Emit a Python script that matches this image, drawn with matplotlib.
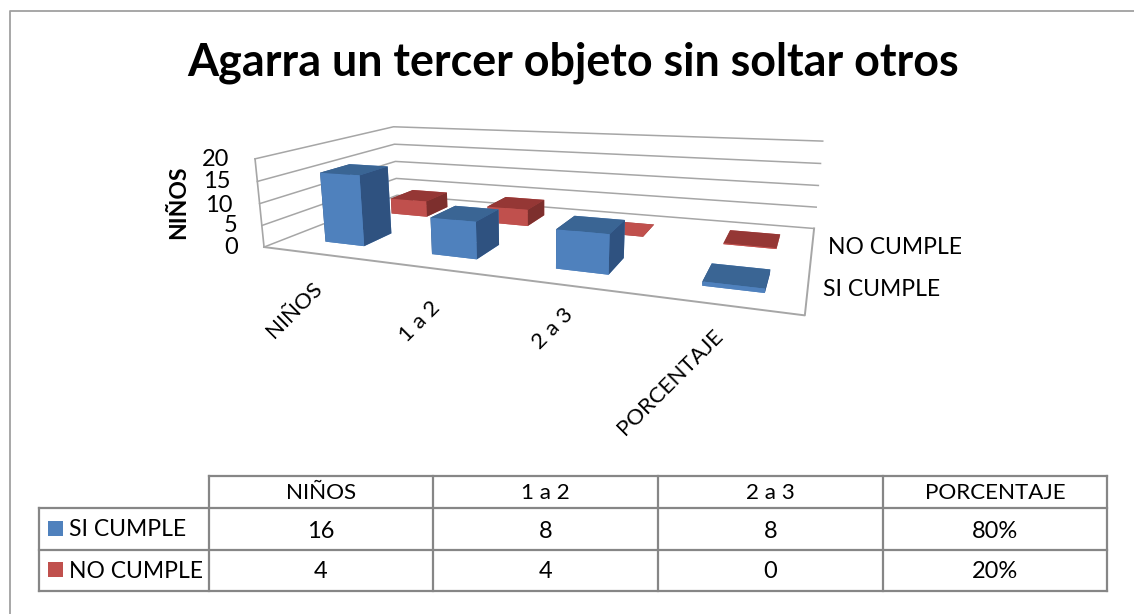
import matplotlib
matplotlib.use('Agg')
import matplotlib.pyplot as plt
from matplotlib.patches import Rectangle

plt.rcParams['font.family'] = ['Lato', 'DejaVu Sans']

categories = ['NIÑOS', '1 a 2', '2 a 3', 'PORCENTAJE']
series_names = ['SI CUMPLE', 'NO CUMPLE']
si_cumple = [16, 8, 8, 0.8]
no_cumple = [4, 4, 0, 0.2]
si_labels = ['16', '8', '8', '80%']
no_labels = ['4', '4', '0', '20%']
z_ticks = [0, 5, 10, 15, 20]
title = 'Agarra un tercer objeto sin soltar otros'

W, H = 1134, 614
fig = plt.figure(figsize=(W / 100, H / 100), dpi=100)
fig.patch.set_facecolor('white')

# camera worked out from the vanishing points of the chart floor
ax = fig.add_subplot(projection='3d', computed_zorder=False)
ax.set_axis_off()
ax.patch.set_alpha(0)
ax.set_box_aspect((1, 1, 1))
ax.view_init(elev=14.97, azim=-63.7, roll=1.6)
ax.set_proj_type('persp', focal_length=0.11)
px_x, px_y, px_z = 123.25, 128.5, 4.45   # world units per data unit
ax.set_xlim((237.6 - 300) / px_x, (237.6 + 300) / px_x)
ax.set_ylim((-24.1 - 300) / px_y, (-24.1 + 300) / px_y)
ax.set_zlim((44.7 - 300) / px_z, (44.7 + 300) / px_z)

x0, x1 = ax.viewLim.intervalx
y0, y1 = ax.viewLim.intervaly
size = 734 / 0.11 * (x1 - x0)
left = 466 + x0 / (x1 - x0) * size
bottom = (H - 231) + y0 / (y1 - y0) * size
ax.set_position([left / W, bottom / H, size / W, size / H])

# frame
grid_c = '#a6a6a6'
nx, ny = len(categories), len(series_names)
for z in z_ticks:
    ax.plot([0, 0, nx], [0, ny, ny], [z, z, z], color=grid_c, lw=1.1, zorder=1)
ax.plot([0, 0], [0, 0], [0, 20], color=grid_c, lw=1.2, zorder=1)
ax.plot([0, nx, nx], [0, 0, ny], [0, 0, 0], color=grid_c, lw=1.4, zorder=1)

# faces: bottom, top, front, back, left, right
blue = ['#4f81bd', '#3a6594', '#4f81bd', '#4f81bd', '#2f5280', '#2f5280']
red = ['#c0504d', '#953735', '#c0504d', '#c0504d', '#7d2f2d', '#7d2f2d']
bar_x = [k + 0.38 for k in range(nx)]
ax.bar3d(bar_x, [1.3] * nx, [0] * nx, 0.38, 0.4, no_cumple, color=red * nx, shade=False, zorder=2)
ax.bar3d(bar_x, [0.3] * nx, [0] * nx, 0.38, 0.4, si_cumple, color=blue * nx, shade=False, zorder=3)

# everything flat goes on an overlay in image pixels
ov = fig.add_axes([0, 0, 1, 1])
ov.set_xlim(0, W)
ov.set_ylim(H, 0)
ov.axis('off')
ov.patch.set_alpha(0)

# chart border, only top and left are inside the crop
ov.plot([10, 10, W], [H, 11, 11], color='#a0a0a0', lw=1.3)
ov.text(573, 63, title, fontsize=32.3, fontweight='bold', ha='center', va='center', color='black')
ov.text(179, 202, 'NIÑOS', fontsize=16.5, fontweight='bold', rotation=90, ha='center', va='center')

fs = 16.5
tick_right = [238, 237, 233, 231, 229]
tick_y = [248, 226, 205, 182, 160]
for tick, x, y in zip(z_ticks, tick_right, tick_y):
    ov.text(x, y, str(tick), fontsize=fs + 0.5, ha='right', va='center')

cat_pos = [(294, 310), (420, 322), (553, 329), (670, 382)]
for name, (x, y) in zip(categories, cat_pos):
    ov.text(x, y, name, fontsize=16, rotation=45, ha='center', va='center')
ov.text(828, 248, series_names[1], fontsize=fs, va='center')
ov.text(823, 289, series_names[0], fontsize=fs, va='center')

# data table
col_x = [39, 209, 433, 658, 883, 1107]
row_y = [476, 508, 550, 591]
line_c = '#868686'
ov.plot([col_x[1], col_x[-1]], [row_y[0], row_y[0]], color=line_c, lw=1.6)
for y in row_y[1:]:
    ov.plot([col_x[0], col_x[-1]], [y, y], color=line_c, lw=1.6)
ov.plot([col_x[0], col_x[0]], [row_y[1], row_y[3]], color=line_c, lw=1.6)
for x in col_x[1:]:
    ov.plot([x, x], [row_y[0], row_y[3]], color=line_c, lw=1.6)

for i in range(nx):
    cx = (col_x[i + 1] + col_x[i + 2]) / 2
    ov.text(cx, 493, categories[i], fontsize=16.1, ha='center', va='center')
    ov.text(cx, 531, si_labels[i], fontsize=17, ha='center', va='center')
    ov.text(cx, 572, no_labels[i], fontsize=17, ha='center', va='center')

for name, y, c in zip(series_names, [529, 570], ['#4f81bd', '#c0504d']):
    ov.add_patch(Rectangle((48, y - 8), 15, 15, fc=c, ec='none'))
    ov.text(69, y + 1, name, fontsize=fs, va='center')

fig.savefig('out.png', dpi=100)
